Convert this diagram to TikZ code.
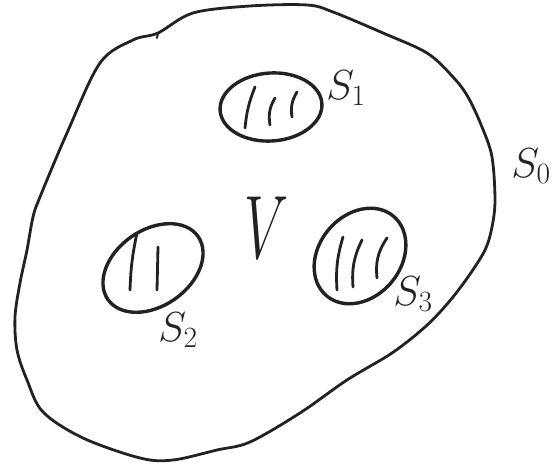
\RequirePackage{fix-cm}
\documentclass[tikz,border=0pt]{standalone}
\usetikzlibrary{shapes.geometric}
\definecolor{inkc}{HTML}{222222}
\begin{document}
\begin{tikzpicture}[x=1pt,y=1pt,
  ink/.style={draw=inkc, line cap=round, line join=round},
  outline/.style={ink, line width=2.8pt},
  blob/.style={ink, ellipse, line width=3.4pt, inner sep=0pt},
  hatch/.style={ink, line width=2.8pt},
  lab/.style={text=inkc, inner sep=0pt, font=\fontsize{42}{42}\selectfont},
  vlab/.style={text=inkc, inner sep=0pt, font=\fontsize{90}{90}\selectfont, xscale=0.62}]
\useasboundingbox (0,0) rectangle (555,468);
\fill[white] (0,0) rectangle (555,468);
% outer region boundary
\draw[outline] plot[smooth cycle, tension=0.55] coordinates {
 (40,271) (67,335) (100,405) (133,428) (158,435) (193,455)
 (250,462) (307,463) (333,456) (383,435) (427,415) (453,391) (468,371)
 (482,341) (492,311) (495,268) (492,241) (485,218) (468,191) (448,165)
 (425,141) (392,115) (347,88) (300,55) (250,26) (217,18) (173,8)
 (140,10) (83,30) (43,56) (27,88) (17,118) (15,151) (20,185)
 (27,218) (33,251)};
\draw[ink, line width=2pt] (158,435) -- (157,430);
% inner holes
\node[blob, minimum width=102pt, minimum height=68pt, rotate=4] (s1) at (271,361) {};
\node[blob, minimum width=110pt, minimum height=76pt, rotate=35] (s2) at (153,200) {};
\node[blob, minimum width=104pt, minimum height=82pt, rotate=50] (s3) at (360,212) {};
% hatching
\draw[hatch] (255,381) to[bend right=8] (245,340);
\draw[hatch] (275,370) to[bend right=20] (270,343);
\draw[hatch] (297,376) to[bend right=20] (292,351);
\draw[hatch] (137,235) to[bend right=5] (130,178);
\draw[hatch] (158,221) to (157,178);
\draw[hatch] (343,231) to[bend right=10] (337,178);
\draw[hatch] (362,228) to[bend right=15] (353,181);
\draw[hatch] (387,230) to[bend right=20] (377,190);
% labels
\node[lab] (l1) at (346,380) {$S_1$};
\node[lab] (l2) at (178,138) {$S_2$};
\node[lab] (l3) at (413,174) {$S_3$};
\node[lab] (l0) at (531,302) {$S_0$};
\node[vlab] (v) at (266,240) {$V$};
\end{tikzpicture}
\end{document}
